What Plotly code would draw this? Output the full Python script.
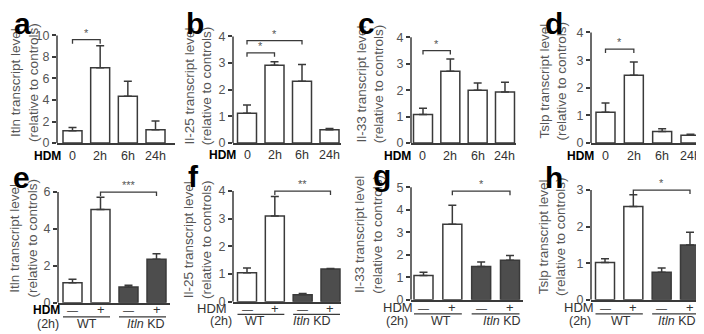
import plotly.graph_objects as go

W, H = 704, 334

# ---------------- data ----------------
time_labels = ["0", "2h", "6h", "24h"]
kd_labels = ["—", "+", "—", "+"]

itln_time = [1.15, 7.0, 4.35, 1.25]
itln_time_err = [0.30, 2.05, 1.40, 0.80]
il25_time = [1.12, 2.92, 2.32, 0.50]
il25_time_err = [0.31, 0.13, 0.63, 0.05]
il33_time = [1.08, 2.72, 2.00, 1.93]
il33_time_err = [0.24, 0.46, 0.27, 0.37]
tslp_time = [1.12, 2.45, 0.42, 0.28]
tslp_time_err = [0.33, 0.48, 0.10, 0.04]

itln_kd = [1.08, 5.05, 0.85, 2.35]
itln_kd_err = [0.19, 0.67, 0.10, 0.30]
il25_kd = [1.05, 3.10, 0.25, 1.18]
il25_kd_err = [0.17, 0.70, 0.05, 0.02]
il33_kd = [1.08, 3.35, 1.48, 1.75]
il33_kd_err = [0.14, 0.85, 0.20, 0.22]
tslp_kd = [1.02, 2.55, 0.75, 1.50]
tslp_kd_err = [0.10, 0.32, 0.12, 0.35]

# significance brackets: (from, to, level, label)
sig_a = [(0, 1, 9.6, "*")]
sig_b = [(0, 1, 3.38, "*"), (0, 2, 3.84, "*")]
sig_c = [(0, 1, 3.5, "*")]
sig_d = [(0, 1, 3.4, "*")]
sig_e = [(1, 3, 6.0, "***")]
sig_f = [(1, 3, 4.0, "**")]
sig_g = [(1, 3, 4.82, "*")]
sig_h = [(1, 3, 3.0, "*")]

ticks_a = [0, 2, 4, 6, 8, 10]
ticks_4 = [0, 1, 2, 3, 4]
ticks_e = [0, 2, 4, 6]
ticks_g = [0, 1, 2, 3, 4, 5]
ticks_h = [0, 1, 2, 3]

WHITE = "white"
DARK = "#4d4d4d"
fills_time = [WHITE] * 4
fills_kd = [WHITE, WHITE, DARK, DARK]

FONT = "Arial, Liberation Sans, sans-serif"
LINE = "#3a3a3a"

panels = [
    dict(letter="a", gene="Itln", vals=itln_time, errs=itln_time_err, fills=fills_time, ticks=ticks_a,
         sig=sig_a, xl=time_labels, geo=(49, 167, 138, 28, 64.5, 27.67), tpos=(16.5, 76), lpos=(14, 16),
         hdm=(39.5, 151), pm=151),
    dict(letter="b", gene="Il-25", vals=il25_time, errs=il25_time_err, fills=fills_time, ticks=ticks_4,
         sig=sig_b, xl=time_labels, geo=(225, 333, 138, 29, 239, 27.5), tpos=(190, 80), lpos=(186.5, 16),
         hdm=(214, 150), pm=150),
    dict(letter="c", gene="Il-33", vals=il33_time, errs=il33_time_err, fills=fills_time, ticks=ticks_4,
         sig=sig_c, xl=time_labels, geo=(403, 508, 138, 30, 415, 27.33), tpos=(362, 78), lpos=(358.5, 16),
         hdm=(389, 151), pm=151),
    dict(letter="d", gene="Tslp", vals=tslp_time, errs=tslp_time_err, fills=fills_time, ticks=ticks_4,
         sig=sig_d, xl=time_labels, geo=(583, 697, 138, 25, 597.5, 28.33), tpos=(545, 75), lpos=(545.5, 16),
         hdm=(572, 151), pm=151),
    dict(letter="e", gene="Itln", vals=itln_kd, errs=itln_kd_err, fills=fills_kd, ticks=ticks_e,
         sig=sig_e, xl=kd_labels, geo=(50, 162, 301, 188, 64.5, 28), tpos=(15.5, 235), lpos=(13.5, 173),
         hdm=(38, 308), pm=308, h2=(40, 323), wt=(79, 323), kd=(138, 323), ul=315.5, bold=True),
    dict(letter="f", gene="Il-25", vals=il25_kd, errs=il25_kd_err, fills=fills_kd, ticks=ticks_4,
         sig=sig_f, xl=kd_labels, geo=(225, 333, 300, 187, 239, 27.83), tpos=(189, 237), lpos=(185.5, 172),
         hdm=(204, 307), pm=307, h2=(213, 320), wt=(247, 320), kd=(304, 320), ul=313, bold=False),
    dict(letter="g", gene="Il-33", vals=il33_kd, errs=il33_kd_err, fills=fills_kd, ticks=ticks_g,
         sig=sig_g, xl=kd_labels, geo=(403, 515, 298, 183, 415.5, 28.83), tpos=(360.5, 231), lpos=(373.5, 171),
         hdm=(390, 306), pm=306, h2=(389, 320), wt=(433, 320), kd=(494, 320), ul=312.5, bold=False),
    dict(letter="h", gene="Tslp", vals=tslp_kd, errs=tslp_kd_err, fills=fills_kd, ticks=ticks_h,
         sig=sig_h, xl=kd_labels, geo=(583, 695, 298, 186, 597, 28.33), tpos=(544, 234), lpos=(545.5, 173),
         hdm=(571, 306), pm=306, h2=(572, 320), wt=(613, 320), kd=(669, 320), ul=312.5, bold=False),
]

K = 1.22
BAR_PX = 19

fig = go.Figure()
layout = dict(
    width=W, height=H, margin=dict(l=0, r=0, t=0, b=0),
    paper_bgcolor="white", plot_bgcolor="rgba(0,0,0,0)", showlegend=False,
    font=dict(family=FONT, color="#444"),
)
shapes = []
annotations = []


def px(xp):
    return xp / W


def py(yp):
    return 1 - yp / H


for i, p in enumerate(panels):
    n = "" if i == 0 else str(i + 1)
    xa, ya = "x" + n, "y" + n
    ax0, ax1, y0, ytop, c0, s = p["geo"]
    ymax = p["ticks"][-1]
    top_row = i < 4
    bw = BAR_PX / s
    fig.add_trace(go.Bar(
        x=[0, 1, 2, 3], y=p["vals"], width=bw, xaxis=xa, yaxis=ya,
        marker=dict(color=p["fills"], line=dict(color=LINE, width=1.5)),
        error_y=dict(type="data", array=p["errs"], arrayminus=[0] * 4, symmetric=False,
                     color=LINE, thickness=1.5, width=4),
        hoverinfo="skip",
    ))
    layout["xaxis" + n] = dict(
        domain=[px(ax0), px(ax1)], range=[(ax0 - c0) / s, (ax1 - c0) / s], anchor=ya,
        showline=True, linecolor=LINE, linewidth=1.5, showgrid=False, zeroline=False,
        tickvals=[0, 1, 2, 3], ticktext=p["xl"], ticks="", showticklabels=False,
        fixedrange=True,
    )
    ytop_k = y0 - (y0 - ytop) * K
    layout["yaxis" + n] = dict(
        domain=[py(y0), py(ytop_k)], range=[0, ymax * K], anchor=xa,
        showline=False, showgrid=False, zeroline=False,
        tickvals=p["ticks"], ticks="outside", ticklen=4, tickwidth=1.5, tickcolor=LINE,
        tickfont=dict(size=12.5, color="#555", family=FONT), fixedrange=True,
    )
    # y axis line up to top tick
    shapes.append(dict(type="line", xref=xa + " domain", yref=ya, x0=0, x1=0, y0=0, y1=ymax,
                       line=dict(color=LINE, width=1.5)))
    # significance brackets
    d = 4 * ymax / (y0 - ytop)
    for (a, b, lvl, lab) in p["sig"]:
        shapes.append(dict(type="path", xref=xa, yref=ya,
                           path=f"M {a},{lvl - d} L {a},{lvl} L {b},{lvl} L {b},{lvl - d}",
                           line=dict(color=LINE, width=1.3)))
        annotations.append(dict(x=(a + b) / 2, y=lvl, xref=xa, yref=ya, text=lab, showarrow=False,
                                yanchor="bottom", yshift=-1, font=dict(size=11, color="#555", family=FONT)))
    # y title
    annotations.append(dict(x=px(p["tpos"][0]), y=py(p["tpos"][1]), xref="paper", yref="paper",
                            text=f"{p['gene']} transcript level<br>(relative to controls)",
                            textangle=-90, showarrow=False, xanchor="center", yanchor="middle",
                            font=dict(size=13.5, color="#555", family=FONT)))
    # panel letter
    annotations.append(dict(x=px(p["lpos"][0]), y=py(p["lpos"][1]), xref="paper", yref="paper",
                            text=f"<b>{p['letter']}</b>", showarrow=False, xanchor="center", yanchor="middle",
                            font=dict(size=30, color="black", family=FONT)))
    # HDM label
    bold = p.get("bold", True)
    annotations.append(dict(x=px(p["hdm"][0]), y=py(p["hdm"][1]), xref="paper", yref="paper",
                            text="<b>HDM</b>" if bold else "HDM", showarrow=False,
                            xanchor="center", yanchor="middle",
                            font=dict(size=12 if bold else 13, color="black" if bold else "#333", family=FONT)))
    # category labels under the bars
    for xi, lab in enumerate(p["xl"]):
        if top_row:
            fsize = 12.5
        else:
            fsize = 11 if lab == "—" else 13
        annotations.append(dict(x=xi, y=py(p["pm"]), xref=xa, yref="paper", text=lab, showarrow=False,
                                xanchor="center", yanchor="middle",
                                font=dict(size=fsize, color="#333", family=FONT)))
    if not top_row:
        for key, txt in (("h2", "(2h)"), ("wt", "WT"), ("kd", "<i>Itln</i> KD")):
            annotations.append(dict(x=px(p[key][0]), y=py(p[key][1]), xref="paper", yref="paper",
                                    text=txt, showarrow=False, xanchor="center", yanchor="middle",
                                    font=dict(size=12.5, color="#333", family=FONT)))
        for g0 in (0, 2):
            shapes.append(dict(type="line", xref=xa, yref="paper",
                               x0=g0 - bw / 2, x1=g0 + 1 + bw / 2, y0=py(p["ul"]), y1=py(p["ul"]),
                               line=dict(color=LINE, width=1.2)))

layout["shapes"] = shapes
layout["annotations"] = annotations
fig.update_layout(**layout)
fig.write_html("out.html")
